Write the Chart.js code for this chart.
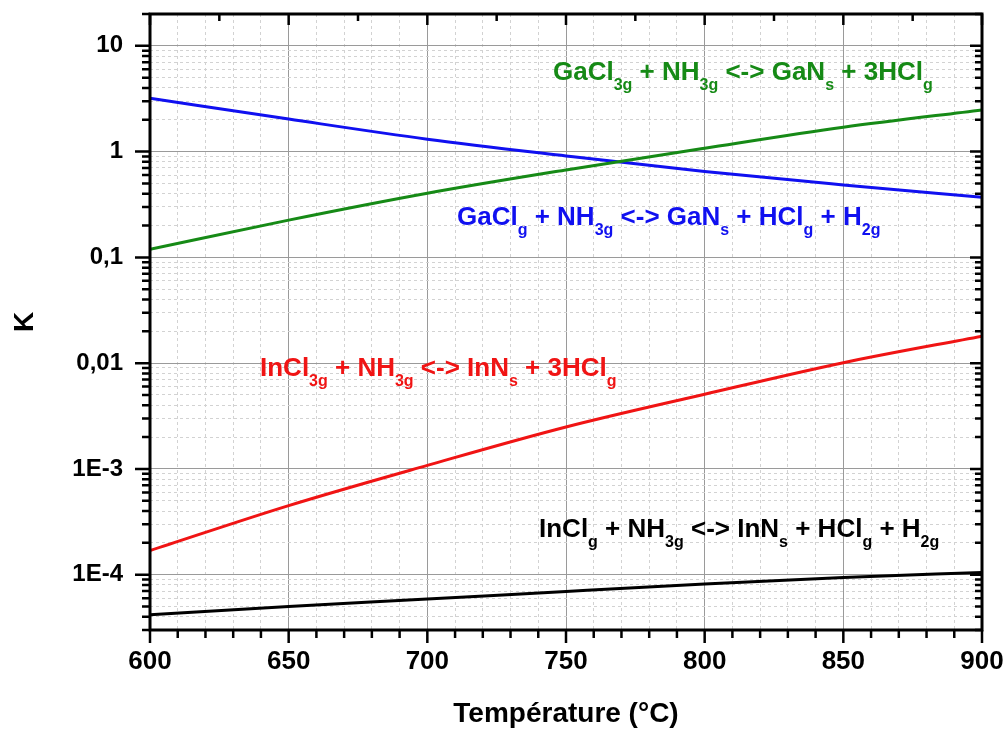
<!DOCTYPE html>
<html>
<head>
<meta charset="utf-8">
<title>K en fonction de la température</title>
<script src="https://cdn.jsdelivr.net/npm/chart.js@4.4.0/dist/chart.umd.min.js"></script>
<style>
  html, body { margin: 0; padding: 0; background: #fff; }
  #myChart { display: block; }
</style>
</head>
<body>
<canvas id="myChart" width="1007" height="729"></canvas>
<script>
// values, every 50 °C
const temperatures = [600, 650, 700, 750, 800, 850, 900];
const kGaCl3 = [0.119, 0.225, 0.404, 0.671, 1.077, 1.70, 2.48];
const kGaCl = [3.2, 2.03, 1.31, 0.91, 0.647, 0.484, 0.37];
const kInCl3 = [1.69e-4, 4.5e-4, 1.08e-3, 2.49e-3, 5.08e-3, 0.0101, 0.018];
const kInCl = [4.18e-5, 5.0e-5, 5.88e-5, 6.95e-5, 8.16e-5, 9.4e-5, 1.05e-4];

const xMin = 600, xMax = 900;
const yMin = 3e-5, yMax = 20;
const yDecades = [1e-4, 1e-3, 1e-2, 1e-1, 1, 10];
const yDecadeLabels = ["1E-4", "1E-3", "0,01", "0,1", "1", "10"];

const GREEN = "#168a16";
const BLUE = "#1010f0";
const RED = "#f01414";
const BLACK = "#000000";
const FONT = "'Liberation Sans', Arial, sans-serif";

const isDecade = (v) => {
  const l = Math.log10(v);
  return Math.abs(l - Math.round(l)) < 1e-9;
};
const decadeLabel = (v) => {
  const i = yDecades.findIndex((d) => Math.abs(Math.log10(d) - Math.log10(v)) < 1e-9);
  return i >= 0 ? yDecadeLabels[i] : "";
};

// grid / tick positions
const xGrid = [];
for (let t = xMin; t <= xMax; t += 10) xGrid.push(t);
const yGrid = [];
for (let e = -5; e <= 1; e++) {
  for (let m = 1; m <= 9; m++) {
    const v = parseFloat(m + "e" + e);
    if (v >= yMin * 0.999 && v <= yMax * 1.001) yGrid.push(v);
  }
}

const reactions = [
  { color: GREEN, x: 553, y: 80, parts: [["GaCl"], ["3g", 1], [" + NH"], ["3g", 1], [" <-> GaN"], ["s", 1], [" + 3HCl"], ["g", 1]] },
  { color: BLUE, x: 457, y: 225, parts: [["GaCl"], ["g", 1], [" + NH"], ["3g", 1], [" <-> GaN"], ["s", 1], [" + HCl"], ["g", 1], [" + H"], ["2g", 1]] },
  { color: RED, x: 260, y: 376, parts: [["InCl"], ["3g", 1], [" + NH"], ["3g", 1], [" <-> InN"], ["s", 1], [" + 3HCl"], ["g", 1]] },
  { color: BLACK, x: 539, y: 537, parts: [["InCl"], ["g", 1], [" + NH"], ["3g", 1], [" <-> InN"], ["s", 1], [" + HCl"], ["g", 1], [" + H"], ["2g", 1]] },
];

const frameAndTicks = {
  id: "frameAndTicks",
  afterDatasetsDraw(chart) {
    const { ctx, chartArea: a, scales: { x, y } } = chart;
    ctx.save();
    ctx.strokeStyle = "#000";
    ctx.lineWidth = 2.5;
    ctx.beginPath();
    xGrid.forEach((t) => {
      const px = x.getPixelForValue(t);
      const len = t % 50 === 0 ? 13 : 8;
      ctx.moveTo(px, a.bottom);
      ctx.lineTo(px, a.bottom + len);
    });
    for (let t = xMin; t <= xMax; t += 25) {
      const px = x.getPixelForValue(t);
      const len = t % 50 === 0 ? 11 : 7;
      ctx.moveTo(px, a.top);
      ctx.lineTo(px, a.top + len);
    }
    yGrid.forEach((v) => {
      const py = y.getPixelForValue(v);
      const major = isDecade(v);
      ctx.moveTo(a.left, py);
      ctx.lineTo(a.left - (major ? 15 : 8), py);
      ctx.moveTo(a.right, py);
      ctx.lineTo(a.right - (major ? 12 : 7), py);
    });
    ctx.stroke();
    ctx.lineWidth = 3;
    ctx.strokeRect(a.left, a.top, a.right - a.left, a.bottom - a.top);

    ctx.textAlign = "left";
    ctx.textBaseline = "alphabetic";
    reactions.forEach((r) => {
      let cx = r.x;
      ctx.fillStyle = r.color;
      r.parts.forEach(([text, sub]) => {
        ctx.font = sub ? "bold 16px " + FONT : "bold 26px " + FONT;
        ctx.fillText(text, cx, sub ? r.y + 10 : r.y);
        cx += ctx.measureText(text).width;
      });
    });
    ctx.restore();
  },
};

const makeSet = (label, values, color) => ({
  label,
  data: temperatures.map((t, i) => ({ x: t, y: values[i] })),
  borderColor: color,
  backgroundColor: color,
  borderWidth: 3,
  pointRadius: 0,
  cubicInterpolationMode: "monotone",
});

const ctx = document.getElementById("myChart");
const chart = new Chart(ctx, {
  type: "line",
  data: {
    datasets: [
      makeSet("GaCl3", kGaCl3, GREEN),
      makeSet("GaCl", kGaCl, BLUE),
      makeSet("InCl3", kInCl3, RED),
      makeSet("InCl", kInCl, BLACK),
    ],
  },
  options: {
    responsive: false,
    animation: false,
    layout: { padding: { top: 14, right: 25, left: 0, bottom: 0 } },
    plugins: {
      legend: { display: false },
      tooltip: { enabled: false },
    },
    scales: {
      x: {
        type: "linear",
        min: xMin,
        max: xMax,
        afterFit: (s) => {
          s.height = 99;
          s.paddingLeft = 0;
          s.paddingRight = 0;
        },
        afterBuildTicks: (s) => { s.ticks = xGrid.map((v) => ({ value: v })); },
        ticks: {
          autoSkip: false,
          maxRotation: 0,
          padding: 16,
          color: "#000",
          font: { family: FONT, size: 26, weight: "bold" },
          callback: (v) => (v % 50 === 0 ? String(v) : ""),
        },
        grid: {
          drawTicks: false,
          lineWidth: 1,
          color: (c) => (c.tick && c.tick.value % 50 === 0 ? "#9a9a9a" : "#d2d2d2"),
        },
        border: {
          display: false,
          dash: (c) => (c.tick && c.tick.value % 50 === 0 ? [] : [3, 3]),
        },
        title: {
          display: true,
          text: "Température (°C)",
          color: "#000",
          font: { family: FONT, size: 28, weight: "bold", lineHeight: 1 },
          padding: { top: 0, bottom: 1 },
        },
      },
      y: {
        type: "logarithmic",
        min: yMin,
        max: yMax,
        afterFit: (s) => {
          s.width = 150;
          s.paddingTop = 0;
          s.paddingBottom = 0;
        },
        afterBuildTicks: (s) => { s.ticks = yGrid.map((v) => ({ value: v, major: isDecade(v) })); },
        ticks: {
          autoSkip: false,
          padding: 27,
          color: "#000",
          font: { family: FONT, size: 24, weight: "bold" },
          callback: (v) => decadeLabel(v),
        },
        grid: {
          drawTicks: false,
          lineWidth: 1,
          color: (c) => (c.tick && isDecade(c.tick.value) ? "#9a9a9a" : "#d2d2d2"),
        },
        border: {
          display: false,
          dash: (c) => (c.tick && isDecade(c.tick.value) ? [] : [3, 3]),
        },
        title: {
          display: true,
          text: "K",
          color: "#000",
          font: { family: FONT, size: 28, weight: "bold", lineHeight: 1 },
          padding: { top: 11, bottom: 0 },
        },
      },
    },
  },
  plugins: [frameAndTicks],
});
</script>
</body>
</html>
